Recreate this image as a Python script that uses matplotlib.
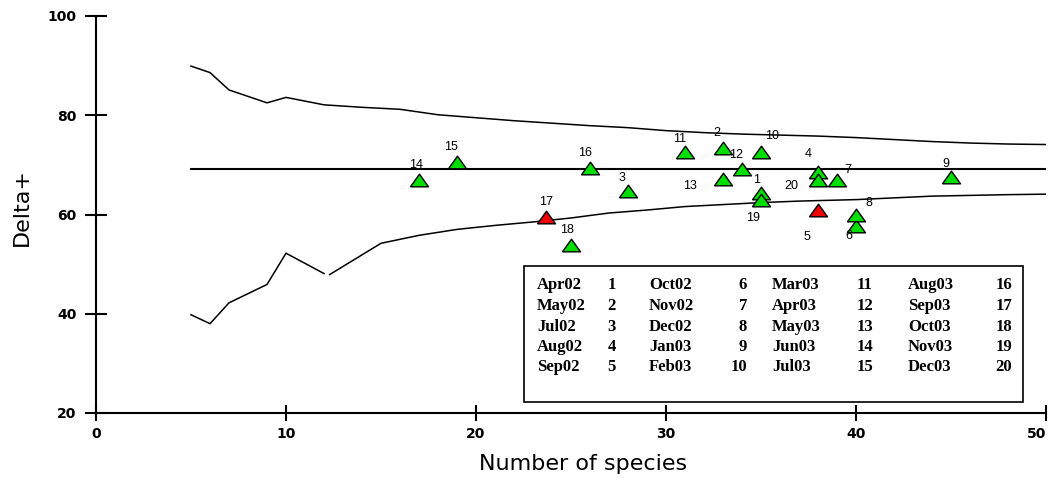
import matplotlib.pyplot as plt
from matplotlib.patches import Rectangle

# confidence funnel (upper / lower limits) vs number of species
upper_x = [5, 6, 7, 9, 10, 12, 14, 16, 18, 20, 22, 24, 26, 28, 30, 32, 34, 36, 38, 40, 42, 44, 46, 48, 50]
upper_y = [89.9, 88.6, 85.1, 82.5, 83.6, 82.1, 81.6, 81.2, 80.1, 79.5, 78.9, 78.4, 77.9, 77.5, 76.9,
           76.5, 76.2, 76.0, 75.8, 75.5, 75.1, 74.7, 74.4, 74.2, 74.1]
lower_x = [5, 6, 7, 9, 10, 12, 12.1, 12.3, 15, 17, 19, 21, 23, 25, 27, 29, 31, 33, 35, 37, 40, 44, 48, 50]
lower_y = [39.8, 38.0, 42.2, 45.9, 52.2, 48.1, None, 47.9, 54.2, 55.8, 57.0, 57.8, 58.5, 59.3, 60.3, 60.9,
           61.6, 62.0, 62.4, 62.7, 63.0, 63.7, 64.0, 64.1]
mean_delta = 69.2
mean_x = [5, 50]

# samples 1..20
sample_ids = list(range(1, 21))
species = [35, 33, 28, 38, 38, 40, 39, 40, 45, 35, 31, 34, 33, 17, 19, 26, 23.7, 25, 35, 38]
delta = [64.3, 73.3, 64.8, 68.6, 61.0, 57.7, 66.9, 59.9, 67.6, 72.5,
         72.5, 69.1, 67.1, 66.9, 70.6, 69.4, 59.5, 53.8, 62.9, 66.9]
outside = [5, 17]

months = ["Apr02", "May02", "Jul02", "Aug02", "Sep02",
          "Oct02", "Nov02", "Dec02", "Jan03", "Feb03",
          "Mar03", "Apr03", "May03", "Jun03", "Jul03",
          "Aug03", "Sep03", "Oct03", "Nov03", "Dec03"]

# label offsets in pixels (dx, dy up)
label_off = [(-4, 13), (-6, 15), (-6, 13), (-10, 18), (-11, -27), (-7, -10), (11, 10), (13, 12),
             (-5, 13), (11, 16), (-5, 13), (-6, 14), (-33, -7), (-3, 15), (-6, 15), (-5, 15),
             (0, 15), (-4, 15), (-8, -18), (-27, -6)]

W, H = 1053, 478
fig = plt.figure(figsize=(W / 100, H / 100), dpi=100)
ax = fig.add_axes([96 / W, (H - 413) / H, 950 / W, 397 / H])

ax.plot(upper_x, upper_y, color='black', lw=1.1)
ax.plot(lower_x, [float('nan') if v is None else v for v in lower_y], color='black', lw=1.1)
ax.plot(mean_x, [mean_delta, mean_delta], color='black', lw=1.5)

tri = [(-1, -0.7), (1, -0.7), (0, 0.7), (-1, -0.7)]
for i, s, x, y in zip(range(20), sample_ids, species, delta):
    col = '#ee0000' if s in outside else '#00dd00'
    ax.plot(x, y, marker=tri, ms=13, mfc=col, mec='black', mew=1.0, ls='none', zorder=5)
    ax.annotate(str(s), (x, y), xytext=label_off[i], textcoords='offset pixels',
                ha='center', va='center', fontsize=9, family='Liberation Sans', zorder=6)

ax.set_xlim(0, 50)
ax.set_ylim(20, 100)
ax.set_xticks([0, 10, 20, 30, 40, 50])
ax.set_yticks([20, 40, 60, 80, 100])
ax.spines['top'].set_visible(False)
ax.spines['right'].set_visible(False)
ax.spines['left'].set_linewidth(1.5)
ax.spines['bottom'].set_linewidth(1.5)
ax.tick_params(axis='y', direction='inout', length=16, width=1.5, pad=6)
ax.tick_params(axis='x', direction='inout', length=12, width=1.5, pad=4)
for lab in ax.get_xticklabels() + ax.get_yticklabels():
    lab.set_fontweight('bold')
    lab.set_fontsize(10)
ax.get_xticklabels()[-1].set_ha('right')

fig.text(583 / W, 1 - 464 / H, "Number of species", ha='center', va='center', fontsize=16)
fig.text(22 / W, 1 - 207 / H, "Delta+", ha='center', va='center', fontsize=16, rotation=90)

# legend table
def ax_x(px):
    return (px - 96) / 950

def ax_y(py):
    return (413 - py) / 397

ax.add_patch(Rectangle((ax_x(524), ax_y(402)), ax_x(1023) - ax_x(524), ax_y(266) - ax_y(402),
                       transform=ax.transAxes, facecolor='white', edgecolor='black', lw=1.2,
                       zorder=7, clip_on=False))
name_x = [537, 649, 772, 908]
num_x = [616, 747, 873, 1012]
row_y = [285, 306, 327, 347, 367]
for k, m in enumerate(months):
    c, r = divmod(k, 5)
    ax.text(ax_x(name_x[c]), ax_y(row_y[r]), m, transform=ax.transAxes, ha='left', va='center',
            fontsize=12, fontweight='bold', family='Liberation Serif', zorder=8)
    ax.text(ax_x(num_x[c]), ax_y(row_y[r]), str(sample_ids[k]), transform=ax.transAxes, ha='right',
            va='center', fontsize=12, fontweight='bold', family='Liberation Serif', zorder=8)

fig.savefig('out.png', dpi=100)
